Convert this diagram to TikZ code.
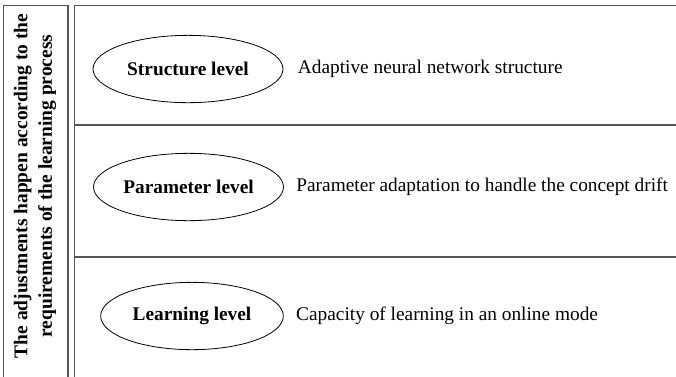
\documentclass[tikz,border=0pt]{standalone}
\usepackage{fontspec}
\setmainfont{Liberation Serif}
\usetikzlibrary{shapes.geometric,positioning}

\tikzset{every picture/.style={line width=0.75pt}}
\tikzset{
  frameline/.style={draw={rgb,255:red,85;green,85;blue,85},line width=1.2pt},
  levelnode/.style={ellipse,draw,line width=0.6pt,inner sep=0pt,minimum width=142.5pt,minimum height=50.5pt,font=\fontsize{14.5}{17}\selectfont\bfseries},
  desctext/.style={anchor=west,inner sep=0pt,font=\fontsize{14.5}{17}\selectfont}
}

\begin{document}
\begin{tikzpicture}[x=0.75pt,y=0.75pt,yscale=-1,xscale=1]
\clip (0,0) rectangle (676,376);

% Side box
\draw [frameline] (3.5,380) -- (3.5,5.5) -- (68,5.5) -- (68,380) ;
\node (side) [rotate=90,align=center,inner sep=0pt,font=\fontsize{14.6}{18.5}\selectfont\bfseries] at (35,186)
  {The adjustments happen according to the\\requirements of the learning process};

% Rows
\draw [frameline] (74.5,380) -- (74.5,5.5) -- (680,5.5) ;
\draw [frameline] (74.5,125) -- (680,125) ;
\draw [frameline] (74.5,257) -- (680,257) ;

% Level nodes
\node (struct) [levelnode] at (188,69) {Structure level};
\node (param) [levelnode] at (188.5,187) {Parameter level};
\node (learn) [levelnode,minimum width=137pt] at (192,316) {Learning level};

% Descriptions
\node (structdesc) [desctext,right=10.5pt of struct] {Adaptive neural network structure};
\node (paramdesc) [desctext,right=9pt of param] {Parameter adaptation to handle the concept drift};
\node (learndesc) [desctext,right=9pt of learn] {Capacity of learning in an online mode};

\end{tikzpicture}
\end{document}
